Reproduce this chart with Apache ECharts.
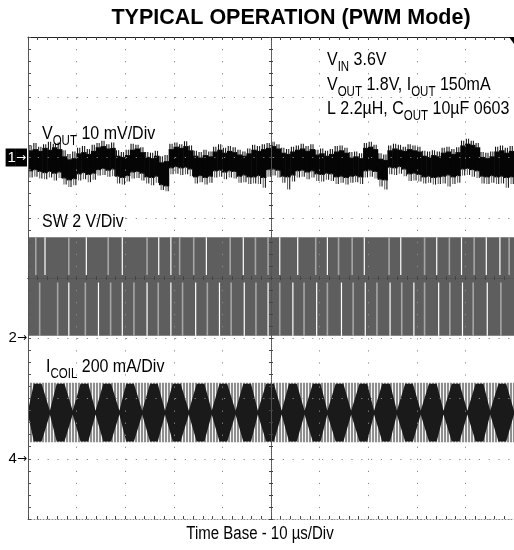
<!DOCTYPE html>
<html><head><meta charset="utf-8">
<script src="https://cdn.jsdelivr.net/npm/echarts@6/dist/echarts.min.js"></script>
<style>html,body{margin:0;padding:0;background:#fff;}#c{width:514px;height:550px;}</style>
</head><body><div id="c"></div>
<script>
const FONT = '"Liberation Sans", Arial, Helvetica, sans-serif';

// ---- scope settings ----
const timePerDiv = 10;              // µs/div
const xHalfSpan = 50;               // µs either side of trigger (10 div)
const yHalfSpan = 4;                // divisions either side of centre (8 div)
const voutScale = 10;               // mV/div
const swScale = 2;                  // V/div
const icoilScale = 200;             // mA/div
const voutRef = 2, swRef = -1, icoilRef = -3;   // channel ground markers (div)
const channelMarkers = [[2, '1'], [-1, '2'], [-3, '4']];

// ---- VOUT ripple (mV, AC about 1.8 V), one column per µs from left edge ----
const voutStep = 1;
const voutHi = [1.2,1.4,1.1,1.6,1.3,1.7,1.4,0.2,-0.3,-0.1,
 0.7,0.9,0.6,1.1,1.7,1.9,1.5,1.6,0.3,0.1,
 0.4,1.3,1.5,0.9,0.1,-0.1,0.3,-0.8,-0.6,1.4,
 1.8,1.6,1.9,1.2,0.3,0.0,0.4,0.2,1.0,1.3,
 0.8,1.1,0.9,0.5,0.3,0.7,1.3,1.1,1.4,1.6,
 1.9,1.5,0.8,0.6,1.0,1.3,1.5,1.1,1.4,0.5,
 0.7,0.3,0.6,1.0,1.2,0.8,0.0,0.2,-0.1,1.6,
 1.8,1.4,-0.2,-0.4,1.2,1.5,1.3,1.1,1.4,1.2,
 1.0,0.3,0.1,0.4,0.2,0.8,1.0,0.6,0.9,2.0,
 2.3,2.1,1.7,0.1,-0.1,0.2,1.0,1.2,0.8,1.1];
const voutLo = [-2.3,-2.1,-2.4,-2.6,-2.4,-2.7,-2.5,-3.5,-3.8,-3.6,
 -2.8,-2.6,-2.9,-2.7,-2.1,-1.9,-2.2,-2.0,-3.2,-3.4,
 -3.1,-2.5,-2.4,-2.7,-3.3,-3.4,-3.2,-4.6,-4.8,-1.8,
 -1.6,-1.8,-1.7,-2.0,-3.3,-3.1,-3.4,-3.2,-2.3,-2.2,
 -2.5,-2.3,-2.4,-3.2,-3.0,-3.3,-3.3,-3.1,-3.4,-2.1,
 -2.0,-2.2,-3.2,-3.3,-3.0,-2.3,-2.2,-2.5,-2.3,-2.8,
 -2.9,-2.7,-2.8,-3.3,-3.2,-3.4,-3.2,-3.1,-3.3,-2.3,
 -2.2,-2.4,-3.7,-3.8,-1.7,-1.8,-1.6,-2.0,-2.8,-2.7,
 -2.9,-3.3,-3.2,-3.4,-3.3,-3.2,-3.0,-3.3,-3.1,-2.0,
 -1.9,-2.1,-2.3,-3.2,-3.3,-3.1,-3.3,-3.2,-3.4,-3.3];
const voutPkHi = [2.0,2.4,1.8,2.2,2.6,2.3,2.5,1.2,0.6,1.0,
 1.6,1.9,1.4,2.1,2.4,2.8,2.2,2.5,1.2,0.9,
 1.3,2.3,2.1,1.7,0.9,0.8,1.1,0.2,0.4,2.3,
 2.5,2.2,2.7,2.0,1.1,0.9,1.3,1.0,1.8,2.2,
 1.6,1.9,1.7,1.3,1.0,1.5,2.1,1.9,2.2,2.4,
 2.6,2.2,1.6,1.4,1.8,2.0,2.3,1.9,2.2,1.3,
 1.5,1.1,1.4,1.9,2.0,1.6,0.9,1.0,0.7,2.4,
 2.6,2.1,0.7,0.5,2.0,2.3,2.1,1.8,2.2,2.0,
 1.8,1.1,1.0,1.2,1.0,1.6,1.8,1.4,1.7,2.8,
 3.1,2.8,2.4,0.9,0.8,1.0,1.8,2.0,1.6,1.9];
const voutPkLo = [-3.3,-3.2,-3.5,-3.6,-3.3,-3.8,-3.4,-4.5,-4.9,-4.6,
 -3.8,-3.6,-4.1,-3.7,-3.0,-2.9,-3.2,-3.1,-4.3,-4.5,
 -4.0,-3.5,-3.4,-3.8,-4.3,-4.6,-4.2,-5.4,-5.6,-2.8,
 -2.7,-2.9,-2.8,-3.1,-4.3,-4.1,-4.5,-4.2,-3.3,-3.2,
 -3.6,-3.3,-3.5,-4.2,-4.1,-4.4,-4.3,-4.4,-5.0,-3.2,
 -3.0,-3.3,-4.2,-5.3,-4.0,-3.3,-3.2,-3.6,-3.3,-3.9,
 -4.0,-3.7,-3.9,-4.4,-4.2,-4.5,-4.2,-4.1,-4.4,-3.3,
 -3.2,-3.5,-4.8,-5.3,-2.8,-2.9,-2.7,-3.1,-3.9,-3.8,
 -4.0,-4.3,-4.2,-4.5,-4.4,-4.3,-4.8,-4.4,-4.2,-3.0,
 -2.9,-3.2,-3.4,-4.3,-4.4,-4.2,-4.4,-4.3,-5.0,-4.4];

// ---- SW node (V) ----
const swHigh = 3.35, swLow = 0.08, swSplitTop = 2.1, swSplitBot = 1.85;
const swWhiteTop = [3.5,12.0,19.4,26.9,29.4,36.7,44.3,51.8,55.5,61.6,69.2,76.7,84.1,89.2,94.3,97.1];
const swWhiteBot = [8.4,14.5,19.4,24.5,29.4,34.5,39.4,44.5,49.4,54.5,59.4,64.5,69.4,74.5,79.4,84.5,89.4,94.5];
const swGrayTop = [1.6,8.4,16.5,24.5,31.2,34.1,41.6,46.8,49.4,59.2,63.9,66.7,74.3,81.6,86.7,91.8,99.0];
const swGrayBot = [2.4,6.1,11.8,17.0,21.8,26.8,31.8,36.9,41.8,46.9,51.8,56.8,61.6,66.9,71.8,76.9,81.6,86.8,91.6,97.3];

// ---- coil current (mA) ----
const icoilHigh = 252, icoilLow = 55, icoilMid = 153;
const icoilPeakHalf = 96, icoilNeckHalf = 6, icoilPeakFlat = 1.6;  // flat-top width (µs)
const icoilCenterT = [2.0,6.7,11.6,16.3,21.0,25.9,30.6,35.5,40.2,45.1,49.8,54.5,59.4,64.1,69.0,73.7,78.4,83.3,88.0,92.9,97.6];
const icoilNeckT = [0,4.5,9.2,13.9,18.8,23.5,28.2,33.1,37.8,42.7,47.3,52.2,56.9,61.6,66.5,71.2,75.9,80.8,85.5,90.4,95.1,100];

// ---- helpers ----
const tx = t => t - xHalfSpan;  // µs from left edge -> axis value
const vDiv = mv => voutRef + mv / voutScale;
const sDiv = v => swRef + v / swScale;
const iDiv = ma => icoilRef + ma / icoilScale;

const stripe = document.createElement('canvas');
stripe.width = 3; stripe.height = 1;
(function(){ const g = stripe.getContext('2d'); g.fillStyle = '#8e8e8e'; g.fillRect(0,0,2,1); g.fillStyle = '#f4f4f4'; g.fillRect(2,0,1,1); })();

function renderVout(params, api) {
  const i = api.value(0);
  const x0 = tx(i * voutStep), x1 = tx((i + 1) * voutStep);
  const a = api.coord([x0, vDiv(api.value(1))]);
  const b = api.coord([x1, vDiv(api.value(2))]);
  const yH = api.coord([x0, vDiv(api.value(3))])[1];
  const yL = api.coord([x0, vDiv(api.value(4))])[1];
  const w = b[0] - a[0];
  const kids = [{type: 'rect', shape: {x: a[0] - 0.3, y: a[1], width: w + 0.6, height: b[1] - a[1]}, style: {fill: '#050505'}}];
  [[0.2, '#111'], [0.65, '#222']].forEach(s => kids.push({type: 'line', shape: {x1: a[0] + w * s[0], y1: a[1] + 1, x2: a[0] + w * s[0], y2: yH}, style: {stroke: s[1], lineWidth: 1.1}}));
  [[0.4, '#6a6a6a'], [0.85, '#1a1a1a']].forEach(s => kids.push({type: 'line', shape: {x1: a[0] + w * s[0], y1: b[1] - 1, x2: a[0] + w * s[0], y2: yL}, style: {stroke: s[1], lineWidth: 1.1}}));
  return {type: 'group', children: kids};
}

function renderBand(fill) {
  return function(params, api) {
    const a = api.coord([-xHalfSpan, api.value(1)]);
    const b = api.coord([xHalfSpan, api.value(0)]);
    return {type: 'rect', shape: {x: a[0], y: a[1], width: b[0] - a[0], height: b[1] - a[1]}, style: {fill: fill}};
  };
}

const swLineKinds = [
  {list: swWhiteTop, from: swHigh, to: swSplitTop, color: '#ffffff', w: 1.2},
  {list: swWhiteBot, from: swSplitBot, to: swLow, color: '#ffffff', w: 1.2},
  {list: swGrayTop, from: swHigh, to: swSplitTop, color: '#a6a6a6', w: 1.6},
  {list: swGrayBot, from: swSplitBot, to: swLow, color: '#a6a6a6', w: 1.6}
];
const swLineData = [];
swLineKinds.forEach((k, ki) => k.list.forEach(t => swLineData.push([tx(t), ki])));

function renderSwLine(params, api) {
  const k = swLineKinds[api.value(1)];
  const a = api.coord([api.value(0), sDiv(k.from)]);
  const b = api.coord([api.value(0), sDiv(k.to)]);
  return {type: 'line', shape: {x1: a[0], y1: a[1], x2: b[0], y2: b[1]}, style: {stroke: k.color, lineWidth: k.w}};
}

const icoilKnots = [];
icoilCenterT.forEach(t => { icoilKnots.push([t - icoilPeakFlat / 2, icoilPeakHalf]); icoilKnots.push([t + icoilPeakFlat / 2, icoilPeakHalf]); });
icoilNeckT.forEach(t => icoilKnots.push([t, icoilNeckHalf]));
icoilKnots.sort((p, q) => p[0] - q[0]);
function renderDiamonds(params, api) {
  const up = icoilKnots.map(k => api.coord([tx(k[0]), iDiv(icoilMid + k[1])]));
  const dn = icoilKnots.slice().reverse().map(k => api.coord([tx(k[0]), iDiv(icoilMid - k[1])]));
  return {type: 'polygon', shape: {points: up.concat(dn)}, style: {fill: '#1a1a1a'}};
}

const dotC = '#8a8a8a';
function centreX(inside) {
  return {type: 'value', min: -xHalfSpan, max: xHalfSpan, interval: timePerDiv, position: 'bottom', z: 5,
    axisLine: {onZero: true, lineStyle: {color: '#555', width: 1, type: [1, 1]}},
    axisTick: {show: true, inside: inside, length: 2, lineStyle: {color: '#444'}},
    minorTick: {show: true, splitNumber: 5, length: 2, lineStyle: {color: '#444'}},
    axisLabel: {show: false}, splitLine: {show: false}};
}
function centreY(inside) {
  return {type: 'value', min: -yHalfSpan, max: yHalfSpan, interval: 1, position: 'left', z: 5,
    axisLine: {onZero: true, lineStyle: {color: '#555', width: 1, type: [1, 1]}},
    axisTick: {show: true, inside: inside, length: 2, lineStyle: {color: '#444'}},
    minorTick: {show: true, splitNumber: 5, length: 2, lineStyle: {color: '#444'}},
    axisLabel: {show: false}, splitLine: {show: false}};
}
function borderX(pos) {
  const top = pos === 'top';
  return {type: 'value', min: -xHalfSpan, max: xHalfSpan, interval: timePerDiv, position: pos, z: 5,
    axisLine: {onZero: false, lineStyle: top ? {color: '#222', width: 1} : {color: '#888', width: 1, type: [1, 2]}},
    axisTick: {show: true, inside: true, length: 3, lineStyle: {color: '#444'}},
    minorTick: {show: true, splitNumber: 5, length: 3, lineStyle: {color: '#444'}},
    axisLabel: {show: false},
    splitLine: {show: top, lineStyle: {color: dotC, width: 1, type: [1.2, 10.85]}}};
}

const sub = {fontFamily: FONT, fontSize: 11.5, verticalAlign: 'top', lineHeight: 11, padding: [8, 0, 0, 0], color: '#000'};
const main = {fontFamily: FONT, fontSize: 16, verticalAlign: 'top', lineHeight: 18, color: '#000'};
const rich = {m: main, s: sub};
function note(x, y, text) {
  return {type: 'text', x: x, y: y, scaleY: 1.2, z: 10, style: {text: text, rich: rich, fill: '#000', verticalAlign: 'top', textVerticalAlign: 'top'}};
}

const chart = echarts.init(document.getElementById('c'));
chart.setOption({
  animation: false,
  backgroundColor: '#fff',
  grid: {left: 28, top: 37, width: 490, height: 482, show: false},
  xAxis: [centreX(false), centreX(true), borderX('top'), borderX('bottom')],
  yAxis: [centreY(false), centreY(true), {
    type: 'value', min: -yHalfSpan, max: yHalfSpan, interval: 1, position: 'left', z: 5,
    axisLine: {onZero: false, lineStyle: {color: '#555', width: 1}},
    axisTick: {show: true, inside: true, length: 3, lineStyle: {color: '#555'}},
    minorTick: {show: true, splitNumber: 5, length: 3, lineStyle: {color: '#555'}},
    splitLine: {show: true, lineStyle: {color: dotC, width: 1, type: [1.2, 8.6]}},
    axisLabel: {show: true, margin: 1, fontSize: 14, fontFamily: FONT,
      formatter: v => { const m = channelMarkers.find(c => Math.abs(c[0] - v) < 1e-6); if (!m) return ''; return m[1] === '1' ? '{box|' + m[1] + '}{boxa|→}' : '{plain|' + m[1] + '}{arr|→}'; },
      rich: {box: {backgroundColor: '#000', color: '#fff', fontSize: 15, fontFamily: FONT, padding: [1, 0, 1, 2], height: 16},
             boxa: {backgroundColor: '#000', color: '#fff', fontSize: 12, fontFamily: '"DejaVu Sans", sans-serif', padding: [1, 1, 1, 0], height: 16},
             plain: {color: '#000', fontSize: 15, fontFamily: FONT},
             arr: {color: '#000', fontSize: 12, fontFamily: '"DejaVu Sans", sans-serif'}}}
  }],
  series: [
    {type: 'custom', name: 'SW band', clip: true, data: [[swLow, swHigh].map(sDiv)], renderItem: renderBand('#5e5e5e')},
    {type: 'custom', name: 'SW edges', clip: true, data: swLineData, renderItem: renderSwLine},
    {type: 'custom', name: 'ICOIL band', clip: true, data: [[icoilLow, icoilHigh].map(iDiv)], renderItem: renderBand({image: stripe, repeat: 'repeat'})},
    {type: 'custom', name: 'ICOIL core', clip: true, data: [[0, 0]], renderItem: renderDiamonds},
    {type: 'custom', name: 'VOUT', clip: true, data: voutHi.map((h, i) => [i, h, voutLo[i], voutPkHi[i], voutPkLo[i]]), renderItem: renderVout}
  ],
  graphic: [
    {type: 'text', x: 291, y: 7, z: 10, style: {text: 'TYPICAL OPERATION (PWM Mode)', fontFamily: FONT, fontSize: 21.5, fontWeight: 'bold', fill: '#000', align: 'center', textAlign: 'center', verticalAlign: 'top', textVerticalAlign: 'top'}},
    note(327, 50, '{m|V}{s|IN}{m| 3.6V}'),
    note(327, 75, '{m|V}{s|OUT}{m| 1.8V, I}{s|OUT}{m| 150mA}'),
    note(327, 99, '{m|L 2.2µH, C}{s|OUT}{m| 10µF 0603}'),
    note(42, 124, '{m|V}{s|OUT}{m| 10 mV/Div}'),
    note(42, 212, '{m|SW 2 V/Div}'),
    note(46, 357, '{m|I}{s|COIL}{m| 200 mA/Div}'),
    {type: 'text', x: 260, y: 525, scaleY: 1.2, z: 10, style: {text: 'Time Base - 10 µs/Div', fontFamily: FONT, fontSize: 15, fill: '#000', align: 'center', textAlign: 'center', verticalAlign: 'top', textVerticalAlign: 'top'}},
    {type: 'polygon', z: 10, shape: {points: [[509, 37], [514, 37], [514, 44]]}, style: {fill: '#000'}}
  ]
});
</script></body></html>
